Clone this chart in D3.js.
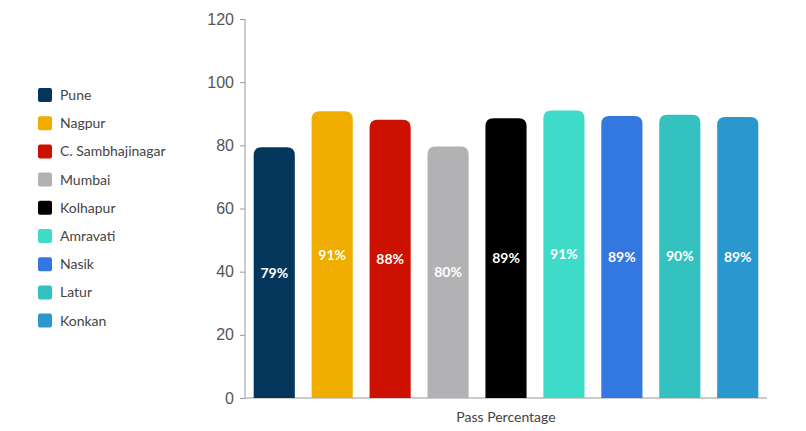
<!DOCTYPE html>
<html>
<head>
<script src="https://d3js.org/d3.v7.min.js"></script>
<style>
  body { margin: 0; background: #fff; font-family: Lato, "Open Sans", sans-serif; }
  .tick text { font-size: 16px; fill: #555; }
</style>
</head>
<body>
<svg width="806" height="431"></svg>
<script>
// data
var regions = ["Pune", "Nagpur", "C. Sambhajinagar", "Mumbai", "Kolhapur", "Amravati", "Nasik", "Latur", "Konkan"];
var passPct = [79.4, 90.8, 88.1, 79.6, 88.6, 91.0, 89.3, 89.7, 89.0];
var pctLabels = ["79%", "91%", "88%", "80%", "89%", "91%", "89%", "90%", "89%"];
var colors = ["#03365a", "#f0ad00", "#cc1100", "#b2b2b5", "#000000", "#3ddbc8", "#3378e0", "#33c2c0", "#2a98cf"];
var yTicks = [0, 20, 40, 60, 80, 100, 120];

var svg = d3.select("svg");

var x = d3.scaleBand().domain(regions).range([245, 767]).paddingInner(0.29).paddingOuter(0.15);
var y = d3.scaleLinear().domain([0, 120]).range([398, 19]);

// y axis
var yAxis = svg.append("g")
  .attr("transform", "translate(245,0)")
  .call(d3.axisLeft(y).tickValues(yTicks).tickSize(5).tickPadding(6));
yAxis.selectAll("line, path").attr("stroke", "#999");
yAxis.select(".domain").attr("d", "M0," + y(120) + "V" + y(0));

// x baseline
svg.append("line")
  .attr("x1", 245).attr("x2", 767)
  .attr("y1", y(0)).attr("y2", y(0))
  .attr("stroke", "#999");

svg.append("text")
  .attr("x", 506).attr("y", 422)
  .attr("text-anchor", "middle")
  .attr("font-size", 14).attr("fill", "#444")
  .text("Pass Percentage");

// bars with rounded tops
var r = 8;
svg.selectAll(".bar")
  .data(regions)
  .enter().append("path")
  .attr("class", "bar")
  .attr("fill", function(d, i) { return colors[i]; })
  .attr("d", function(d, i) {
    var x0 = x(d), w = x.bandwidth(), top = y(passPct[i]), bot = y(0);
    return "M" + x0 + "," + bot +
      "V" + (top + r) +
      "Q" + x0 + "," + top + " " + (x0 + r) + "," + top +
      "H" + (x0 + w - r) +
      "Q" + (x0 + w) + "," + top + " " + (x0 + w) + "," + (top + r) +
      "V" + bot + "Z";
  });

svg.selectAll(".lbl")
  .data(regions)
  .enter().append("text")
  .attr("class", "lbl")
  .attr("x", function(d) { return x(d) + x.bandwidth() / 2; })
  .attr("y", function(d, i) { return (y(passPct[i]) + y(0)) / 2; })
  .attr("dy", "0.35em")
  .attr("text-anchor", "middle")
  .attr("font-size", 14).attr("font-weight", "bold").attr("fill", "#fff")
  .text(function(d, i) { return pctLabels[i]; });

// legend
var legend = svg.selectAll(".leg")
  .data(regions)
  .enter().append("g")
  .attr("transform", function(d, i) { return "translate(38," + (88 + i * 28.2) + ")"; });
legend.append("rect")
  .attr("width", 14).attr("height", 14).attr("rx", 2)
  .attr("fill", function(d, i) { return colors[i]; });
legend.append("text")
  .attr("x", 22).attr("y", 7).attr("dy", "0.35em")
  .attr("font-size", 14).attr("fill", "#444")
  .text(function(d) { return d; });
</script>
</body>
</html>
